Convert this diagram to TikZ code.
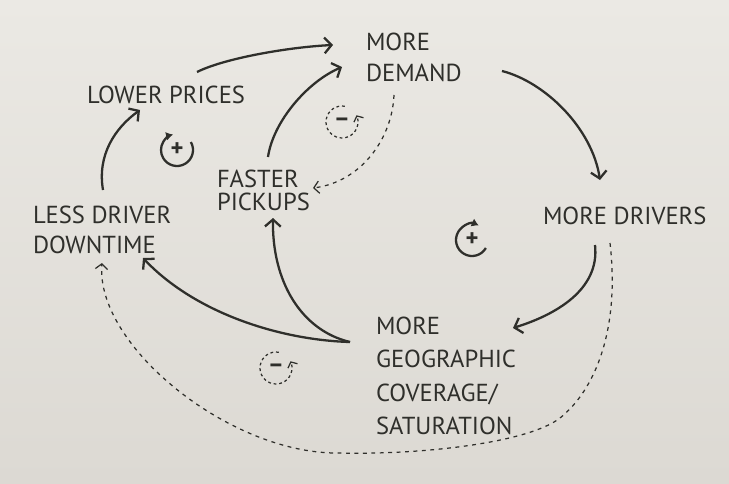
\documentclass[tikz,border=0pt]{standalone}
\usepackage{fontspec}
\setmainfont{PT Sans}
\usetikzlibrary{positioning, calc, arrows.meta}
\definecolor{Ink}{HTML}{2F2F2B}
\definecolor{PaperTop}{HTML}{EBE9E4}
\definecolor{PaperBottom}{HTML}{DCD9D3}
\tikzset{
    handnode/.style={anchor=north west, inner sep=0pt, outer sep=0pt, align=left, text=Ink, font={\fontsize{14}{17}\selectfont}},
    flow/.style={-{Straight Barb[length=4pt, width=9pt]}, line width=1.3pt, color=Ink},
    backflow/.style={-{Straight Barb[length=3pt, width=7pt]}, line width=0.7pt, dash pattern=on 2.2pt off 2.6pt, color=Ink},
    loopmark/.style={circle, minimum size=0.64cm, inner sep=0pt, outer sep=0pt, text=Ink, font={\bfseries\fontsize{14}{14}\selectfont}},
    loopring/.style={-{Latex[length=4pt, width=5pt]}, line width=1.3pt, color=Ink},
    loopdash/.style={-{Straight Barb[length=2.5pt, width=6pt]}, line width=0.7pt, dash pattern=on 1.6pt off 1.6pt, color=Ink},
}

\begin{document}
\begin{tikzpicture}[x=0.02cm, y=0.02cm]
    % Foglio
    \shade[top color=PaperTop, bottom color=PaperBottom] (0,0) rectangle (729,-483);
    \useasboundingbox (0,0) rectangle (729,-483);

    % Voci
    \node[handnode, font={\fontsize{14}{17.5}\selectfont}] (demand) at (366,-33) {MORE\\DEMAND};
    \node[handnode] (prices) at (87,-86) {LOWER PRICES};
    \node[handnode, font={\fontsize{14}{13}\selectfont}] (pickups) at (217,-170) {FASTER\\PICKUPS};
    \node[handnode] (downtime) at (33,-206) {LESS DRIVER\\DOWNTIME};
    \node[handnode] (drivers) at (543,-207) {MORE DRIVERS};
    \node[handnode, font={\fontsize{14}{19}\selectfont}] (coverage) at (376,-317) {MORE\\GEOGRAPHIC\\COVERAGE/\\SATURATION};

    % Segni dei cicli
    \node[loopmark] (plusleft) at (177,-150) {+};
    \draw[loopring] (plusleft.30) arc[start angle=30, end angle=-256, radius=0.32cm];
    \node[loopmark] (plusright) at (472,-240) {+};
    \draw[loopring] (plusright.-30) arc[start angle=-30, end angle=-295, radius=0.32cm];
    \node[loopmark] (minustop) at (342,-122) {\textendash};
    \draw[loopdash] (minustop.80) arc[start angle=80, end angle=385, radius=0.32cm];
    \node[loopmark] (minusbottom) at (276,-368) {\textendash};
    \draw[loopdash] (minusbottom.80) arc[start angle=80, end angle=385, radius=0.32cm];

    % Frecce piene
    \draw[flow] ($(prices.north west)+(110,14)$) .. controls +(28,14) and +(-43,-2) .. ($(demand.north west)+(-33,-12)$);
    \draw[flow] ($(pickups.north west)+(51,13)$) .. controls +(5,35) and +(-35,-15) .. ($(demand.north west)+(-24,-34)$);
    \draw[flow] ($(demand.north west)+(136,-38)$) .. controls +(43,-11) and +(-8,52) .. ($(drivers.north west)+(57,27)$);
    \draw[flow] ($(drivers.north west)+(52,-38)$) .. controls +(5,-45) and +(42,13) .. ($(coverage.north west)+(137,-11)$);
    \draw[flow] ($(coverage.north west)+(-26,-25)$) .. controls +(-50,12) and +(-1,-62) .. ($(pickups.north west)+(56,-48)$);
    \draw[flow] ($(coverage.north west)+(-26,-25)$) .. controls +(-70,2) and +(52,-55) .. ($(downtime.north west)+(110,-52)$);
    \draw[flow] ($(downtime.north west)+(70,16)$) .. controls +(-6,35) and +(-25,-18) .. ($(prices.north west)+(53,-24)$);

    % Frecce tratteggiate
    \draw[backflow] ($(demand.north west)+(28,-62)$) .. controls +(-2,-45) and +(47,6) .. ($(pickups.north west)+(96,-18)$);
    \draw[backflow] ($(drivers.north west)+(67,-36)$) .. controls +(10,-87) and (595,-390) .. (560,-418)
        .. controls (528,-443) and (420,-455) .. (340,-453)
        .. controls (230,-455) and (95,-345) .. ($(downtime.north west)+(69,-57)$);
\end{tikzpicture}
\end{document}
